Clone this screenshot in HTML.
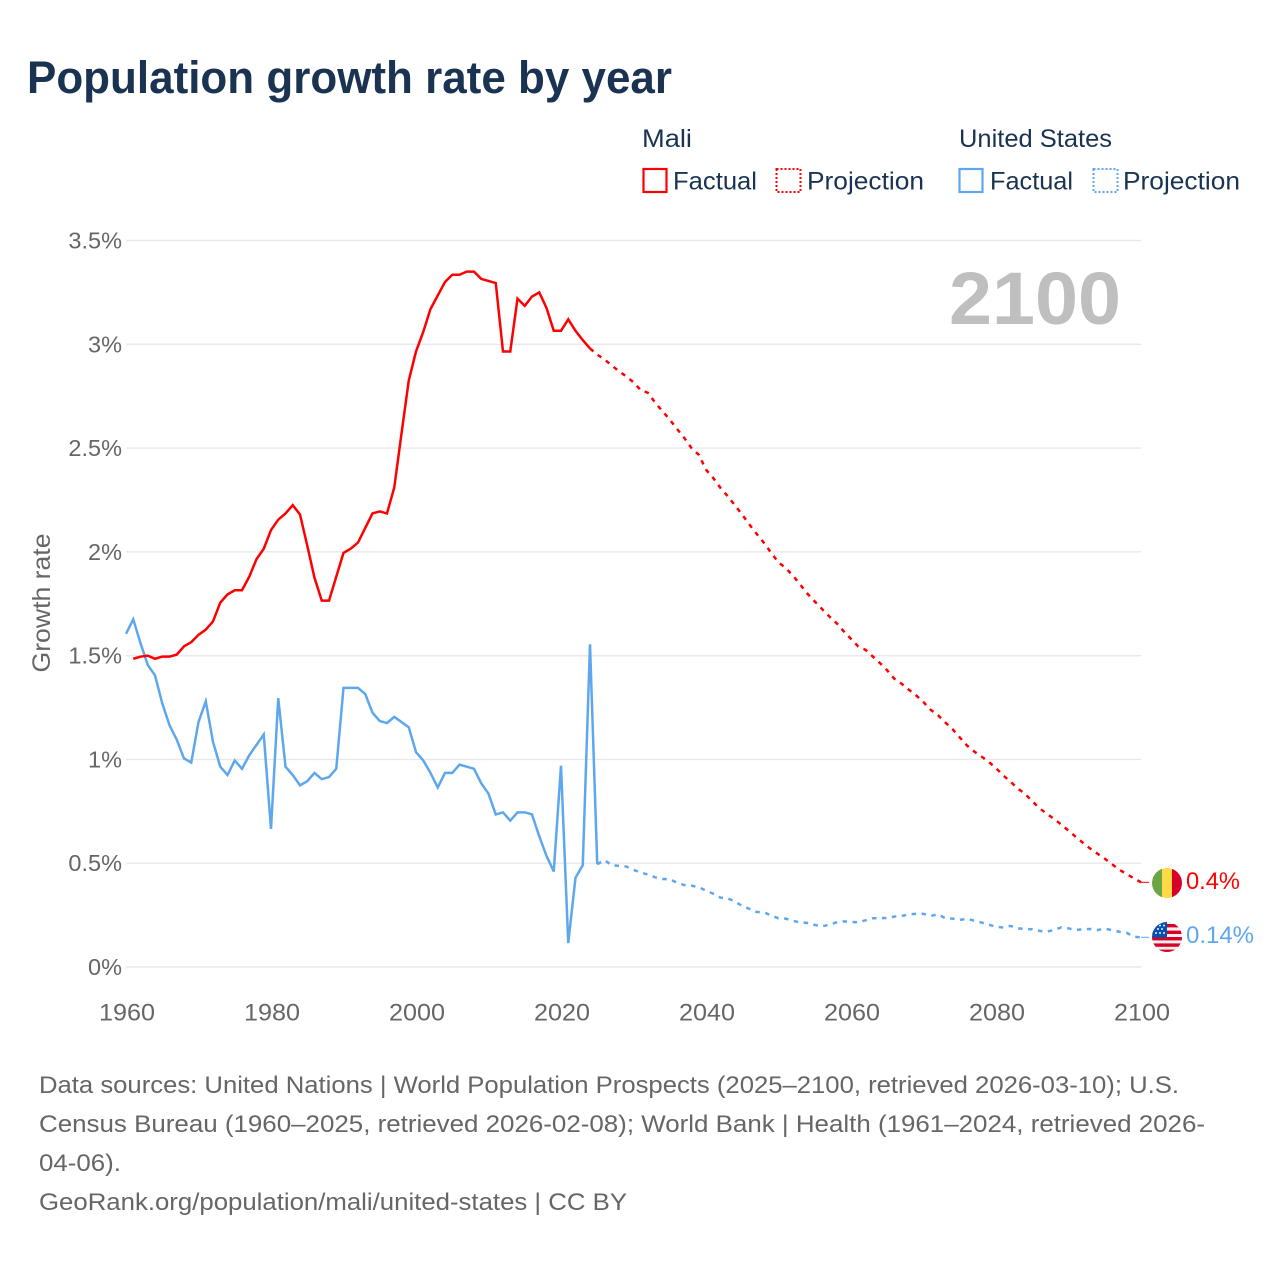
<!DOCTYPE html>
<html lang="en">
<head>
<meta charset="utf-8">
<title>Population growth rate by year</title>
<style>
html,body{margin:0;padding:0;background:#fff;}
svg{display:block;}
text{font-family:"Liberation Sans",sans-serif;}
</style>
</head>
<body>
<svg id="chart" width="1280" height="1280" viewBox="0 0 1280 1280" xmlns="http://www.w3.org/2000/svg">
  <rect x="0" y="0" width="1280" height="1280" fill="#ffffff"/>
  <text x="27" y="93" font-size="45" font-weight="700" fill="#1a3352" textLength="645" lengthAdjust="spacingAndGlyphs">Population growth rate by year</text>

  <g font-size="25" fill="#1a3352">
    <text x="642" y="147" textLength="50" lengthAdjust="spacingAndGlyphs">Mali</text>
    <rect x="643.5" y="169" width="23" height="23" fill="none" stroke="#ff0000" stroke-width="2.2"/>
    <text x="673" y="189.5" textLength="84" lengthAdjust="spacingAndGlyphs">Factual</text>
    <rect x="776.5" y="169" width="24" height="23" fill="none" stroke="#ff0000" stroke-width="2" stroke-dasharray="2 2"/>
    <text x="807" y="189.5" textLength="117" lengthAdjust="spacingAndGlyphs">Projection</text>
    <text x="959" y="147" textLength="153" lengthAdjust="spacingAndGlyphs">United States</text>
    <rect x="959.5" y="169" width="23" height="23" fill="none" stroke="#5ea7ee" stroke-width="2.2"/>
    <text x="990" y="189.5" textLength="83" lengthAdjust="spacingAndGlyphs">Factual</text>
    <rect x="1093.5" y="169" width="24" height="23" fill="none" stroke="#5ea7ee" stroke-width="2" stroke-dasharray="2 2"/>
    <text x="1123" y="189.5" textLength="117" lengthAdjust="spacingAndGlyphs">Projection</text>
  </g>

  <g id="grid"></g>
  <g id="y-ticks" font-size="23.5" fill="#666666" text-anchor="end"></g>
  <g id="x-ticks" font-size="24" fill="#666666" text-anchor="middle"></g>
  <text x="50" y="603" font-size="25" fill="#666666" text-anchor="middle" transform="rotate(-90 50 603)" textLength="139" lengthAdjust="spacingAndGlyphs">Growth rate</text>

  <text x="949" y="324" font-size="74" font-weight="700" fill="#bfbfbf" textLength="172" lengthAdjust="spacingAndGlyphs">2100</text>

  <g id="series"></g>

  <defs>
    <clipPath id="flag-clip-mali"><circle cx="1167" cy="883" r="15"/></clipPath>
    <clipPath id="flag-clip-us"><circle cx="1167" cy="937" r="15"/></clipPath>
  </defs>
  <g clip-path="url(#flag-clip-mali)">
    <rect x="1152" y="868" width="10" height="30" fill="#6da544"/>
    <rect x="1162" y="868" width="10" height="30" fill="#ffda44"/>
    <rect x="1172" y="868" width="10" height="30" fill="#d80027"/>
  </g>
  <g clip-path="url(#flag-clip-us)">
    <rect x="1152" y="922" width="30" height="30" fill="#f0f0f0"/>
    <rect x="1152" y="924" width="30" height="3.4" fill="#d80027"/>
    <rect x="1152" y="930.6" width="30" height="3.4" fill="#d80027"/>
    <rect x="1152" y="937" width="30" height="3.4" fill="#d80027"/>
    <rect x="1152" y="943.4" width="30" height="3.4" fill="#d80027"/>
    <rect x="1152" y="949.6" width="30" height="3.4" fill="#d80027"/>
    <rect x="1152" y="922" width="15" height="15.5" fill="#0052b4"/>
    <g fill="#f0f0f0">
      <circle cx="1156" cy="933" r="1"/><circle cx="1160" cy="933" r="1"/><circle cx="1164" cy="933" r="1"/>
      <circle cx="1158" cy="929" r="1"/><circle cx="1162" cy="929" r="1"/><circle cx="1164" cy="925.5" r="1"/><circle cx="1160" cy="925.5" r="1"/>
    </g>
  </g>
  <text id="mali-end-label" x="1186" y="889" font-size="24" fill="#ff0000" textLength="54" lengthAdjust="spacingAndGlyphs">0.4%</text>
  <text id="us-end-label" x="1186" y="943" font-size="24" fill="#5ea7ee" textLength="68" lengthAdjust="spacingAndGlyphs">0.14%</text>

  <g font-size="24.5" fill="#666666">
    <text x="39" y="1093" textLength="1140" lengthAdjust="spacingAndGlyphs">Data sources: United Nations | World Population Prospects (2025–2100, retrieved 2026-03-10); U.S.</text>
    <text x="39" y="1132" textLength="1166" lengthAdjust="spacingAndGlyphs">Census Bureau (1960–2025, retrieved 2026-02-08); World Bank | Health (1961–2024, retrieved 2026-</text>
    <text x="39" y="1171" textLength="82" lengthAdjust="spacingAndGlyphs">04-06).</text>
    <text x="39" y="1210" textLength="588" lengthAdjust="spacingAndGlyphs">GeoRank.org/population/mali/united-states | CC BY</text>
  </g>
</svg>

<script>
const yTickValues = [0, 0.5, 1, 1.5, 2, 2.5, 3, 3.5];
const yTickLabels = ["0%", "0.5%", "1%", "1.5%", "2%", "2.5%", "3%", "3.5%"];
const xTickYears = [1960, 1980, 2000, 2020, 2040, 2060, 2080, 2100];
const xTickLabels = ["1960", "1980", "2000", "2020", "2040", "2060", "2080", "2100"];

const maliFactualStartYear = 1961;
const maliFactualValues = [
  1.485,1.495,1.50,1.485,1.495,1.495,1.505,1.545,1.565,1.60,
  1.625,1.665,1.755,1.795,1.815,1.815,1.88,1.965,2.015,2.105,
  2.155,2.185,2.225,2.18,2.03,1.875,1.765,1.765,1.88,1.995,
  2.015,2.045,2.115,2.185,2.195,2.185,2.31,2.57,2.825,2.965,
  3.06,3.17,3.235,3.30,3.335,3.335,3.35,3.35,3.315,3.305,
  3.295,2.965,2.965,3.22,3.185,3.23,3.25,3.175,3.065,3.065,
  3.12,3.065,3.02,2.98
];

const maliProjectionStartYear = 2024;
const maliProjectionValues = [
  2.98,2.95,2.927,2.898,2.87,2.845,2.817,2.779,2.766,2.718,
  2.678,2.637,2.592,2.549,2.50,2.468,2.396,2.356,2.308,2.268,
  2.224,2.179,2.131,2.086,2.043,1.995,1.949,1.922,1.885,1.842,
  1.798,1.761,1.725,1.689,1.657,1.617,1.581,1.544,1.528,1.496,
  1.464,1.429,1.388,1.364,1.335,1.308,1.276,1.239,1.213,1.178,
  1.146,1.106,1.067,1.038,1.014,0.988,0.958,0.923,0.893,0.86,
  0.834,0.799,0.765,0.738,0.714,0.686,0.657,0.627,0.598,0.57,
  0.546,0.522,0.495,0.469,0.448,0.428,0.408
];

const usFactualStartYear = 1960;
const usFactualValues = [
  1.605,1.675,1.56,1.455,1.405,1.27,1.165,1.095,1.005,0.985,
  1.18,1.28,1.085,0.965,0.925,0.995,0.955,1.02,1.07,1.12,
  0.665,1.295,0.965,0.925,0.875,0.895,0.935,0.905,0.915,0.955,
  1.345,1.345,1.345,1.315,1.225,1.185,1.175,1.205,1.18,1.155,
  1.035,0.995,0.935,0.865,0.935,0.935,0.975,0.965,0.955,0.885,
  0.835,0.735,0.745,0.705,0.745,0.745,0.735,0.63,0.535,0.46,
  0.97,0.115,0.43,0.49,1.555,0.495
];

const usProjectionStartYear = 2025;
const usProjectionValues = [
  0.495,0.515,0.49,0.487,0.484,0.468,0.455,0.445,0.432,0.424,
  0.423,0.406,0.395,0.392,0.384,0.368,0.353,0.334,0.331,0.315,
  0.294,0.28,0.265,0.264,0.247,0.235,0.233,0.222,0.215,0.212,
  0.203,0.196,0.204,0.215,0.22,0.217,0.215,0.225,0.235,0.235,
  0.236,0.243,0.246,0.254,0.256,0.256,0.246,0.254,0.235,0.233,
  0.227,0.233,0.223,0.214,0.204,0.194,0.19,0.198,0.186,0.183,
  0.182,0.174,0.17,0.178,0.191,0.186,0.178,0.182,0.183,0.178,
  0.185,0.177,0.17,0.165,0.146,0.143
];

const SVG_NS = "http://www.w3.org/2000/svg";
const plotLeft = 126, plotRight = 1141, plotBottom = 967, plotTop = 240.5;
function xScale(year) { return plotLeft + (year - 1960) * (plotRight - plotLeft) / 140; }
function yScale(value) { return plotBottom - value * (plotBottom - plotTop) / 3.5; }

function pathFor(startYear, values) {
  return values.map(function (v, i) {
    return (i ? "L" : "M") + xScale(startYear + i).toFixed(2) + " " + yScale(v).toFixed(2);
  }).join(" ");
}

const gridGroup = document.getElementById("grid");
const yTickGroup = document.getElementById("y-ticks");
const xTickGroup = document.getElementById("x-ticks");
const seriesGroup = document.getElementById("series");

yTickValues.forEach(function (v, i) {
  const line = document.createElementNS(SVG_NS, "line");
  
  
  line.setAttribute("x1", plotLeft);
  line.setAttribute("x2", plotRight);
  line.setAttribute("y1", yScale(v));
  line.setAttribute("y2", yScale(v));
  line.setAttribute("stroke", "#e9e9e9");
  line.setAttribute("stroke-width", "1.4");
  gridGroup.appendChild(line);

  const label = document.createElementNS(SVG_NS, "text");
  
  
  label.setAttribute("x", 122);
  label.setAttribute("y", yScale(v) + 8);
  label.textContent = yTickLabels[i];
  yTickGroup.appendChild(label);
});

xTickYears.forEach(function (year, i) {
  const label = document.createElementNS(SVG_NS, "text");
  
  
  label.setAttribute("x", xScale(year) + 1);
  label.setAttribute("y", 1020.5);
  label.setAttribute("textLength", "56");
  label.setAttribute("lengthAdjust", "spacingAndGlyphs");
  label.textContent = xTickLabels[i];
  xTickGroup.appendChild(label);
});

function drawLine(name, d, color, dash) {
  const path = document.createElementNS(SVG_NS, "path");
  
  
  path.setAttribute("d", d);
  path.setAttribute("fill", "none");
  path.setAttribute("stroke", color);
  path.setAttribute("stroke-width", "2.5");
  path.setAttribute("stroke-linejoin", "miter");
  if (dash) { path.setAttribute("stroke-dasharray", dash); }
  seriesGroup.appendChild(path);
}

drawLine("us-factual-line", pathFor(usFactualStartYear, usFactualValues), "#5ea7ee");
drawLine("us-projection-line", pathFor(usProjectionStartYear, usProjectionValues), "#5ea7ee", "4.5 5.5");
drawLine("mali-factual-line", pathFor(maliFactualStartYear, maliFactualValues), "#ff0000");
drawLine("mali-projection-line", pathFor(maliProjectionStartYear, maliProjectionValues), "#ff0000", "4.5 5.5");

const maliEndY = yScale(maliProjectionValues[maliProjectionValues.length - 1]);
const usEndY = yScale(usProjectionValues[usProjectionValues.length - 1]);

const maliLeader = document.createElementNS(SVG_NS, "line");


maliLeader.setAttribute("x1", plotRight);
maliLeader.setAttribute("x2", plotRight + 8);
maliLeader.setAttribute("y1", maliEndY);
maliLeader.setAttribute("y2", maliEndY);
maliLeader.setAttribute("stroke", "#ff0000");
maliLeader.setAttribute("stroke-width", "1");
seriesGroup.appendChild(maliLeader);

const usLeader = document.createElementNS(SVG_NS, "line");


usLeader.setAttribute("x1", plotRight);
usLeader.setAttribute("x2", plotRight + 8);
usLeader.setAttribute("y1", usEndY);
usLeader.setAttribute("y2", usEndY);
usLeader.setAttribute("stroke", "#5ea7ee");
usLeader.setAttribute("stroke-width", "1");
seriesGroup.appendChild(usLeader);
</script>
</body>
</html>
